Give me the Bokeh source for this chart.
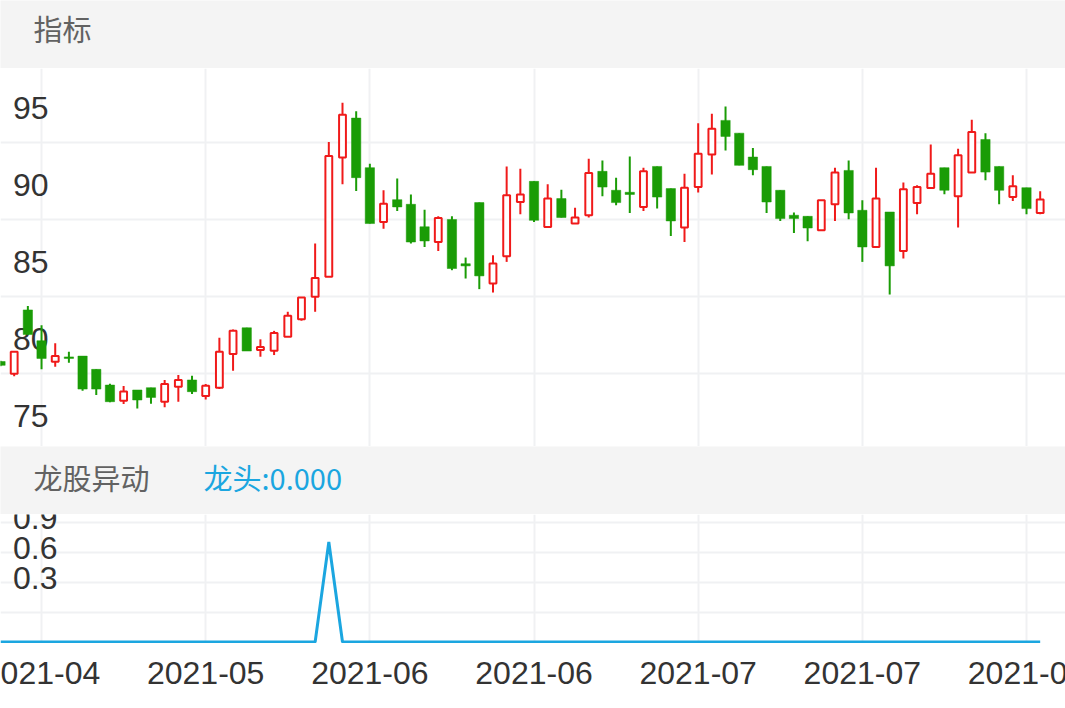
from bokeh.plotting import figure
from bokeh.models import Range1d, FixedTicker, Grid, ColumnDataSource
from bokeh.layouts import column
from bokeh.embed import file_html
from bokeh.resources import INLINE
from bokeh.core.properties import value

# ---------------- data ----------------
opens = [80.75, 79.95, 84.1, 82.1, 80.73, 81.05, 81.1, 80.24, 79.22, 78.2,
         78.9, 79.05, 78.14, 79.11, 79.55, 78.51, 79.05, 81.23, 82.94, 81.5,
         81.45, 82.35, 83.5, 84.95, 86.25, 94.0, 96.56, 93.34, 89.81, 91.26,
         90.96, 89.5, 88.51, 89.97, 87.1, 91.07, 85.82, 87.59, 91.11, 92.45,
         89.49, 91.33, 89.71, 90.25, 93.1, 91.87, 91.74, 90.79, 93.42, 91.98,
         89.45, 92.08, 94.2, 96.41, 95.58, 94.03, 93.42, 91.87, 90.25, 90.18,
         89.27, 90.96, 93.16, 90.57, 88.19, 90.46, 87.93, 91.04, 92.02, 93.34,
         91.48, 93.02, 95.17, 93.42, 91.43, 92.04, 90.4]
highs = [80.8, 81.4, 84.35, 83.1, 81.93, 81.38, 81.1, 80.24, 79.3, 79.16,
         78.9, 79.05, 79.55, 79.87, 79.83, 79.29, 82.29, 82.83, 82.94, 82.19,
         82.74, 83.98, 84.91, 88.41, 95.0, 97.55, 97.0, 93.6, 91.87, 92.63,
         91.6, 90.6, 90.18, 90.18, 87.5, 91.07, 87.65, 93.42, 93.27, 92.45,
         92.26, 91.91, 90.74, 93.92, 93.81, 92.69, 94.07, 93.34, 93.42, 91.98,
         92.94, 96.23, 96.84, 97.32, 95.58, 94.61, 93.42, 91.87, 90.42, 90.18,
         91.22, 93.34, 93.81, 91.22, 93.34, 90.46, 92.37, 92.19, 94.85, 93.34,
         94.57, 96.45, 95.58, 93.42, 92.84, 92.04, 91.8]
lows = [80.45, 79.8, 82.5, 80.25, 80.41, 80.67, 78.85, 78.57, 78.1, 77.99,
        77.7, 78.0, 77.78, 78.14, 78.64, 78.29, 78.96, 80.15, 81.43, 81.06,
        81.17, 82.35, 83.4, 83.98, 86.25, 92.26, 91.82, 89.71, 89.38, 90.53,
        88.41, 88.19, 87.93, 86.68, 86.14, 85.45, 85.23, 87.22, 90.31, 89.81,
        89.49, 90.1, 89.71, 90.1, 91.48, 90.9, 90.4, 90.53, 90.68, 88.9,
        88.51, 91.72, 92.89, 94.46, 93.49, 92.84, 90.4, 89.88, 89.1, 88.56,
        89.27, 89.88, 89.99, 87.22, 88.19, 85.1, 87.44, 90.31, 92.02, 91.61,
        89.45, 93.02, 92.52, 90.96, 91.17, 90.31, 90.31]
closes = [80.5, 81.38, 82.5, 80.95, 81.1, 80.95, 78.96, 78.96, 78.14, 78.8,
          78.25, 78.42, 79.29, 79.55, 78.79, 79.18, 81.38, 82.74, 81.43, 81.7,
          82.6, 83.72, 84.91, 86.18, 94.09, 96.78, 92.69, 89.71, 91.0, 90.79,
          88.51, 88.58, 90.07, 86.79, 86.96, 86.31, 87.11, 91.54, 91.6, 89.92,
          91.33, 90.1, 90.1, 92.99, 92.08, 91.07, 91.6, 93.1, 91.43, 89.88,
          92.04, 94.25, 95.87, 95.37, 93.49, 93.21, 91.11, 90.03, 90.03, 89.42,
          91.22, 93.03, 90.4, 88.19, 91.33, 86.96, 91.93, 92.08, 92.95, 91.87,
          94.14, 95.65, 93.05, 91.87, 92.13, 90.68, 91.28]
dragon_head = [0, 0, 0, 0, 0, 0, 0, 0, 0, 0,
               0, 0, 0, 0, 0, 0, 0, 0, 0, 0,
               0, 0, 0, 0, 1.0, 0, 0, 0, 0, 0,
               0, 0, 0, 0, 0, 0, 0, 0, 0, 0,
               0, 0, 0, 0, 0, 0, 0, 0, 0, 0,
               0, 0, 0, 0, 0, 0, 0, 0, 0, 0,
               0, 0, 0, 0, 0, 0, 0, 0, 0, 0,
               0, 0, 0, 0, 0, 0, 0]
tick_idx = [3, 15, 27, 39, 51, 63, 75]
tick_labels = ["2021-04", "2021-05", "2021-06", "2021-06", "2021-07", "2021-07", "2021-08"]
price_ticks = [75, 80, 85, 90, 95]
price_labels = ["75", "80", "85", "90", "95"]
sub_ticks = [0.3, 0.6, 0.9]
sub_labels = ["0.3", "0.6", "0.9"]

# ---------------- style ----------------
W = 1065
IDX_PX = 13.68          # pixels per candle
RED = "#f01a1a"
GREEN = "#1a9c06"
BLUE = "#1ba6e0"
GRID = "#f0f1f3"
BAND = "#f4f4f4"
LAB_FONT = value("Liberation Sans")
CJK = value("Noto Sans CJK SC")

idx = list(range(len(opens)))
xr = Range1d(0, W / IDX_PX)
lab_x = 12.5 / IDX_PX


def base(height, **kw):
    f = figure(width=W, height=height, output_backend="svg", toolbar_location=None,
               min_border=0, x_axis_location=None, y_axis_location=None, **kw)
    f.outline_line_color = None
    f.grid.visible = False
    return f


# header band (coordinates in page pixels)
hdr = base(68, x_range=Range1d(0, W), y_range=Range1d(68, 0))
hdr.background_fill_color = BAND
hdr.border_fill_color = BAND
hdr.text(x=[33], y=[27], text=["指标"], text_font=CJK, text_font_size="29px",
         text_color="#626262", text_baseline="middle", text_align="left")

# price panel
p = base(378, x_range=xr, y_range=Range1d(75.23, 99.78))
p.add_layout(Grid(dimension=0, ticker=FixedTicker(ticks=tick_idx),
                  grid_line_color=GRID, grid_line_width=2))
p.add_layout(Grid(dimension=1, ticker=FixedTicker(ticks=price_ticks),
                  grid_line_color=GRID, grid_line_width=2))
p.text(x=[lab_x] * len(price_ticks), y=price_ticks, text=price_labels,
       text_font=LAB_FONT, text_font_size="32px", text_color="#333333",
       text_baseline="middle", text_align="left", y_offset=-34)

up = [c >= o for o, c in zip(opens, closes)]
colors = [RED if u else GREEN for u in up]
src = ColumnDataSource(dict(x=idx, h=highs, l=lows, color=colors))
p.segment(x0="x", y0="h", x1="x", y1="l", line_color="color", line_width=2, source=src)

up_src = ColumnDataSource(dict(
    x=[i for i in idx if up[i]],
    top=[closes[i] for i in idx if up[i]],
    bottom=[opens[i] for i in idx if up[i]]))
dn_src = ColumnDataSource(dict(
    x=[i for i in idx if not up[i]],
    top=[opens[i] for i in idx if not up[i]],
    bottom=[closes[i] for i in idx if not up[i]]))
p.vbar(x="x", top="top", bottom="bottom", width=0.5, fill_color="white",
       line_color=RED, line_width=2, source=up_src)
p.vbar(x="x", top="top", bottom="bottom", width=0.68, fill_color=GREEN,
       line_color=GREEN, line_width=0.5, source=dn_src)

# middle band
band = base(68, x_range=Range1d(0, W), y_range=Range1d(514, 446))
band.background_fill_color = BAND
band.border_fill_color = BAND
band.text(x=[33], y=[476], text=["龙股异动"], text_font=CJK, text_font_size="29px",
          text_color="#626262", text_baseline="middle", text_align="left")
band.text(x=[203], y=[476], text=["龙头:0.000"], text_font=CJK, text_font_size="29px",
          text_color=BLUE, text_baseline="middle", text_align="left")

# indicator panel
b = base(129, x_range=xr, y_range=Range1d(-0.015, 1.275))
b.add_layout(Grid(dimension=0, ticker=FixedTicker(ticks=tick_idx),
                  grid_line_color=GRID, grid_line_width=2))
b.add_layout(Grid(dimension=1, ticker=FixedTicker(ticks=[0.3, 0.6, 0.9, 1.2]),
                  grid_line_color=GRID, grid_line_width=2))
b.text(x=[lab_x] * len(sub_ticks), y=sub_ticks, text=sub_labels,
       text_font=LAB_FONT, text_font_size="32px", text_color="#333333",
       text_baseline="middle", text_align="left", y_offset=-34)
b.line(idx, dragon_head, line_color=BLUE, line_width=3)

# date label strip (labels clipped at the edges like the original)
xs = base(65, x_range=xr, y_range=Range1d(0, 1))
xs.text(x=tick_idx, y=[0.54] * len(tick_idx), text=tick_labels,
        text_font=LAB_FONT, text_font_size="32px", text_color="#333333",
        text_baseline="middle", text_align="center")

layout = column(hdr, p, band, b, xs, spacing=0)
open("out.html", "w").write(file_html(layout, INLINE))
